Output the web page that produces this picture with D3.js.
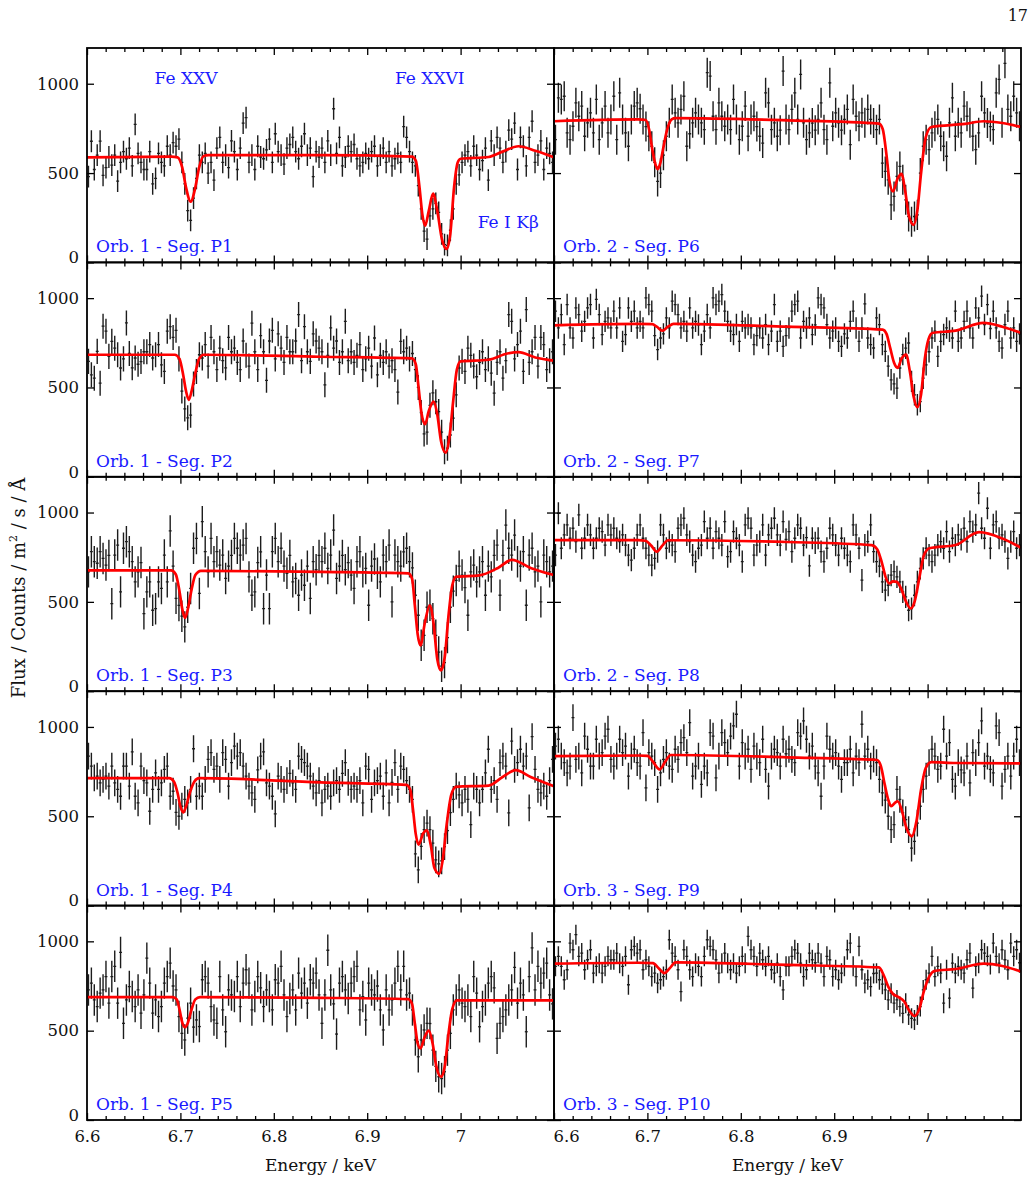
<!DOCTYPE html>
<html>
<head>
<meta charset="utf-8">
<script src="https://cdn.jsdelivr.net/npm/d3@7"></script>
<style>
  body { margin: 0; background: #fff; }
  text { font-family: "DejaVu Serif", serif; }
</style>
</head>
<body>
<svg id="chart"></svg>
<script>
// energy grid of the spectra (keV)
const binStart = 6.6;
const binWidth = 0.003125;

// flux per bin (16 rows of 10 bins)
const fluxP1 = [
  480,678,520,600,679,487,530,590,545,600,
  455,560,620,580,640,540,772,610,560,520,
  520,620,440,470,610,560,540,650,600,670,
  650,690,560,440,290,235,360,470,600,560,
  610,500,560,460,640,700,560,600,530,680,
  620,520,640,780,810,560,600,520,650,590,
  580,630,690,560,720,620,600,550,640,660,
  700,620,580,650,720,600,640,480,620,590,
  640,560,680,600,860,610,700,540,590,650,
  620,660,580,540,560,610,580,620,650,540,
  600,640,560,620,540,580,610,560,760,700,
  620,560,540,430,300,175,130,260,300,330,
  280,160,100,95,180,300,440,490,560,600,
  620,540,650,600,520,570,640,460,680,600,
  700,640,560,620,740,690,780,520,700,650,
  540,700,790,560,600,680,520,640,610,560
];
const fluxP2 = [
  646,571,552,702,524,843,815,674,758,720,
  683,609,660,861,690,610,665,630,645,700,
  700,740,665,683,740,627,590,815,840,780,
  820,660,480,380,330,345,520,590,683,665,
  740,620,780,700,600,720,650,610,780,700,
  720,640,600,760,680,620,860,700,600,790,
  700,540,760,820,660,800,720,640,780,700,
  700,760,908,650,840,700,646,800,760,720,
  700,515,680,833,720,760,640,700,870,650,
  700,640,680,740,600,660,720,620,777,571,
  680,640,700,620,650,600,474,758,700,720,
  660,690,600,500,360,240,250,400,470,420,
  365,250,140,160,234,328,459,609,646,590,
  720,680,620,560,640,700,600,660,580,468,
  640,700,552,650,908,870,660,740,815,590,
  936,640,700,780,620,780,740,600,650,700
];
const fluxP3 = [
  668,781,725,716,781,743,706,760,490,762,
  818,556,800,837,781,725,612,668,720,434,
  556,612,453,462,612,575,762,612,897,700,
  520,480,420,360,470,575,800,855,547,949,
  781,668,855,725,781,706,762,631,700,760,
  855,800,762,818,855,640,537,556,720,780,
  462,650,462,781,855,725,800,700,660,760,
  612,631,537,650,593,700,519,725,680,760,
  725,800,687,762,902,631,700,760,680,720,
  650,575,725,781,668,687,481,700,740,660,
  612,762,725,818,500,762,725,700,780,800,
  725,690,537,425,257,313,470,481,406,313,
  219,140,160,300,470,560,620,700,650,580,
  425,668,706,612,668,725,537,700,640,760,
  818,537,760,930,800,762,874,725,700,781,
  481,762,800,668,700,500,762,725,668,700
];
const fluxP4 = [
  837,781,715,725,687,706,725,669,781,687,
  650,612,781,781,669,860,612,575,781,700,
  687,528,650,743,650,687,762,781,612,640,
  522,500,556,594,575,650,878,612,669,612,
  706,818,856,762,781,706,856,818,669,800,
  893,837,856,781,725,669,631,594,760,837,
  860,687,669,612,513,725,706,650,700,740,
  687,650,837,818,800,781,725,669,631,700,
  575,650,669,612,687,700,650,740,800,690,
  650,669,650,700,575,781,762,594,687,700,
  725,612,743,575,690,800,650,781,762,700,
  650,594,290,200,331,425,462,425,350,256,
  234,250,330,420,520,594,669,620,575,650,
  594,453,669,650,575,650,743,875,650,700,
  594,800,837,781,519,921,762,800,875,781,
  837,547,946,762,650,631,669,612,700,818
];
const fluxP5 = [
  728,766,672,635,710,728,803,654,803,860,
  654,938,541,672,747,691,635,728,598,700,
  906,766,598,672,579,635,766,803,878,750,
  728,579,485,448,570,654,520,560,523,785,
  803,766,635,560,541,803,616,494,728,700,
  691,803,635,766,841,766,616,691,803,740,
  635,728,691,616,785,766,860,700,579,680,
  728,616,822,710,766,654,785,766,822,700,
  541,700,950,728,650,481,766,803,728,680,
  766,803,860,616,691,560,766,728,700,750,
  616,504,728,616,672,766,860,728,860,700,
  710,616,448,354,448,504,541,540,391,300,
  242,232,270,391,485,616,672,728,654,635,
  672,579,803,710,522,635,672,766,803,740,
  457,541,579,616,672,728,854,654,766,700,
  494,803,963,728,860,766,822,878,700,650
];
const fluxP6 = [
  687,921,912,930,725,687,762,893,818,875,
  706,781,837,725,912,687,781,875,725,800,
  930,687,949,800,725,650,800,875,893,860,
  800,760,706,650,560,453,500,600,706,781,
  912,837,781,856,930,650,720,781,837,800,
  781,743,1062,1043,818,743,893,818,762,800,
  743,912,800,687,762,875,706,800,818,760,
  706,668,949,893,743,781,706,740,1071,800,
  743,856,949,800,1052,781,687,725,780,740,
  800,893,743,687,1005,762,837,781,740,800,
  856,659,912,818,762,837,781,856,800,780,
  743,800,556,509,462,322,369,481,537,462,
  350,257,228,257,266,500,650,687,631,725,
  762,800,706,650,594,781,921,706,781,725,
  875,818,781,706,631,725,930,837,780,760,
  743,949,1024,781,1114,856,818,930,837,762
];
const fluxP7 = [
  927,833,908,740,964,833,777,945,908,815,
  870,945,964,777,993,908,796,870,889,833,
  927,833,945,758,796,945,870,927,833,870,
  833,1002,964,927,790,712,777,800,889,833,
  983,964,908,833,870,815,945,833,870,850,
  740,815,908,833,1002,964,983,1020,927,870,
  815,796,852,758,870,833,852,833,740,790,
  833,777,852,740,815,964,758,815,730,790,
  833,927,964,983,777,870,833,889,796,850,
  1002,964,945,852,777,815,833,758,730,800,
  777,870,927,833,758,833,968,777,740,721,
  889,852,740,702,620,543,520,496,609,684,
  720,749,534,459,403,421,552,627,700,777,
  815,674,758,796,833,815,777,927,758,777,
  870,927,833,777,945,889,1011,852,964,830,
  927,833,758,721,852,927,777,833,758,800
];
const fluxP8 = [
  762,996,800,875,931,856,912,837,987,800,
  856,931,875,800,856,912,893,818,931,875,
  912,856,837,875,818,762,734,800,875,931,
  856,800,762,706,743,781,931,875,800,837,
  818,781,912,931,968,875,837,762,725,800,
  818,949,856,912,800,893,856,818,949,753,
  781,893,856,818,725,931,968,912,762,818,
  837,931,762,875,912,968,875,818,949,850,
  893,781,856,931,912,818,860,702,856,830,
  856,781,725,800,912,875,818,762,856,800,
  762,725,931,875,800,622,818,837,931,781,
  725,700,612,566,593,650,669,640,612,556,
  528,453,462,537,612,687,743,800,762,725,
  762,818,837,800,893,781,856,818,875,850,
  912,837,949,893,931,1109,912,856,1024,800,
  931,949,856,875,837,743,837,893,800,818
];
const fluxP9 = [
  893,931,837,800,743,781,1052,818,837,743,
  949,875,781,781,931,837,856,949,987,818,
  781,837,931,856,893,725,837,875,800,781,
  968,659,856,837,800,650,743,818,856,781,
  762,875,818,912,940,856,1024,725,781,837,
  678,781,743,968,949,715,837,968,912,856,
  949,1006,1071,781,912,837,875,762,893,837,
  800,931,762,669,837,875,856,781,931,850,
  875,818,800,968,949,1034,931,837,893,781,
  743,612,781,949,875,837,856,781,706,800,
  800,875,743,837,800,1015,837,875,781,820,
  800,706,631,590,500,425,453,650,594,519,
  481,425,322,360,462,556,650,725,800,875,
  837,762,781,987,837,912,706,669,800,760,
  743,837,687,856,800,912,1034,781,837,762,
  743,1006,968,669,762,837,725,837,931,800
];
const fluxP10 = [
  860,916,860,785,841,990,953,1037,916,934,
  841,897,953,822,860,878,822,860,916,897,
  897,934,878,860,916,757,953,972,934,953,
  841,897,860,803,822,766,785,803,841,1009,
  934,916,841,719,953,916,841,803,878,860,
  803,916,1009,972,953,897,822,878,934,878,
  841,878,822,860,916,878,1028,953,916,860,
  934,897,860,916,841,822,878,803,728,860,
  860,916,953,934,878,803,841,934,897,880,
  934,878,803,916,897,803,841,785,822,860,
  953,990,860,803,972,841,766,785,747,820,
  822,785,760,728,672,710,654,672,635,597,
  654,588,569,560,588,635,728,785,822,916,
  803,860,822,654,841,682,878,822,860,841,
  822,897,934,738,860,878,953,934,916,870,
  990,916,878,953,897,841,990,916,953,880
];

// half length of the error bars, one value per panel
const errHalf = [61, 70, 88, 75, 88, 84, 60, 62, 75, 56];

// fitted model, [keV, flux] knots
const modelP1 = [[6.6,588],[6.69,592],[6.697,588],[6.702,530],[6.706,420],[6.711,340],[6.716,420],[6.72,530],[6.725,595],[6.73,600],[6.85,600],[6.948,592],[6.952,570],[6.956,420],[6.959,270],[6.962,205],[6.966,290],[6.9705,385],[6.975,290],[6.98,130],[6.985,75],[6.989,160],[6.993,420],[6.997,560],[7.0,580],[7.03,590],[7.045,620],[7.062,650],[7.08,625],[7.1,588]];
const modelP2 = [[6.6,683],[6.694,683],[6.699,660],[6.703,570],[6.706,480],[6.709,431],[6.712,480],[6.716,580],[6.72,660],[6.725,683],[6.85,672],[6.948,663],[6.952,630],[6.955,500],[6.958,360],[6.962,294],[6.966,370],[6.971,421],[6.975,350],[6.979,200],[6.984,135],[6.988,220],[6.992,420],[6.996,600],[7.0,646],[7.03,655],[7.05,690],[7.062,698],[7.08,668],[7.1,650]];
const modelP3 = [[6.6,676],[6.69,676],[6.695,655],[6.699,560],[6.702,460],[6.705,410],[6.708,460],[6.712,570],[6.716,650],[6.722,674],[6.85,668],[6.944,660],[6.948,630],[6.951,480],[6.954,320],[6.957,257],[6.962,390],[6.967,481],[6.971,380],[6.975,180],[6.979,116],[6.983,190],[6.987,420],[6.991,590],[6.995,640],[7.02,648],[7.04,690],[7.055,735],[7.075,690],[7.1,650]];
const modelP4 = [[6.6,713],[6.688,713],[6.693,695],[6.697,630],[6.7,555],[6.703,522],[6.706,555],[6.71,630],[6.715,695],[6.72,713],[6.85,690],[6.942,676],[6.946,650],[6.949,540],[6.952,400],[6.955,341],[6.96,405],[6.964,421],[6.968,340],[6.972,210],[6.977,178],[6.981,260],[6.985,450],[6.99,620],[6.995,665],[7.03,672],[7.045,720],[7.059,758],[7.075,720],[7.1,668]];
const modelP5 = [[6.6,688],[6.692,688],[6.696,675],[6.699,620],[6.702,545],[6.705,519],[6.708,545],[6.712,620],[6.716,675],[6.721,688],[6.85,684],[6.944,677],[6.948,650],[6.951,540],[6.954,430],[6.957,401],[6.962,470],[6.966,500],[6.97,430],[6.974,300],[6.979,242],[6.983,300],[6.987,480],[6.991,620],[6.996,669],[7.1,670]];
const modelP6 = [[6.6,790],[6.69,800],[6.698,797],[6.702,740],[6.705,640],[6.708,560],[6.711,522],[6.714,560],[6.717,640],[6.721,740],[6.726,800],[6.73,807],[6.85,795],[6.948,777],[6.952,745],[6.956,600],[6.959,460],[6.963,397],[6.968,470],[6.972,496],[6.976,400],[6.98,260],[6.985,210],[6.989,290],[6.993,500],[6.998,700],[7.004,758],[7.04,775],[7.06,790],[7.08,780],[7.1,758]];
const modelP7 = [[6.6,848],[6.69,856],[6.705,854],[6.71,840],[6.716,818],[6.722,840],[6.728,856],[6.85,840],[6.952,824],[6.956,800],[6.96,720],[6.964,640],[6.968,610],[6.972,660],[6.977,684],[6.981,590],[6.985,450],[6.989,390],[6.993,460],[6.997,660],[7.001,770],[7.005,805],[7.03,818],[7.06,861],[7.08,840],[7.1,805]];
const modelP8 = [[6.6,846],[6.69,846],[6.698,842],[6.704,815],[6.71,781],[6.716,815],[6.722,845],[6.85,835],[6.94,818],[6.946,795],[6.951,720],[6.955,640],[6.959,603],[6.963,615],[6.967,612],[6.972,570],[6.977,500],[6.982,463],[6.986,500],[6.991,630],[6.996,760],[7.002,800],[7.03,818],[7.055,890],[7.08,855],[7.1,803]];
const modelP9 = [[6.6,837],[6.69,840],[6.7,838],[6.706,805],[6.713,762],[6.719,805],[6.725,843],[6.85,830],[6.946,815],[6.95,780],[6.954,680],[6.958,590],[6.961,556],[6.965,575],[6.968,584],[6.972,540],[6.977,440],[6.983,388],[6.988,470],[6.993,650],[6.998,770],[7.004,803],[7.03,798],[7.1,796]];
const modelP10 = [[6.6,875],[6.69,880],[6.706,878],[6.712,850],[6.718,822],[6.724,850],[6.73,882],[6.85,868],[6.948,854],[6.953,810],[6.958,745],[6.963,705],[6.968,690],[6.975,663],[6.98,615],[6.986,582],[6.991,620],[6.996,720],[7.002,805],[7.008,835],[7.03,845],[7.06,875],[7.08,862],[7.1,831]];

const panelLabels = [
  "Orb. 1 - Seg. P1", "Orb. 1 - Seg. P2", "Orb. 1 - Seg. P3", "Orb. 1 - Seg. P4", "Orb. 1 - Seg. P5",
  "Orb. 2 - Seg. P6", "Orb. 2 - Seg. P7", "Orb. 2 - Seg. P8", "Orb. 3 - Seg. P9", "Orb. 3 - Seg. P10"
];

// line identifications in the first panel: [text, keV, flux]
const lineNotes = [["Fe XXV", 6.706, 1000], ["Fe XXVI", 6.967, 1000], ["Fe I Kβ", 7.051, 190]];

const xTicks = [6.6, 6.7, 6.8, 6.9, 7];
const xMinorStep = 0.02;
const yTicks = [0, 500, 1000];

const fluxes = [fluxP1, fluxP2, fluxP3, fluxP4, fluxP5, fluxP6, fluxP7, fluxP8, fluxP9, fluxP10];
const models = [modelP1, modelP2, modelP3, modelP4, modelP5, modelP6, modelP7, modelP8, modelP9, modelP10];

const width = 1035, height = 1184;
const frame = { left: 87, top: 48, panelW: 467, panelH: 214.4 };

const svg = d3.select("#chart").attr("width", width).attr("height", height);

const x = d3.scaleLinear().domain([6.6, 7.1]).range([0, frame.panelW]);
const y = d3.scaleLinear().domain([0, 1200]).range([frame.panelH, 0]);

const minorTicks = d3.range(6.6, 7.1001, xMinorStep)
  .filter(v => Math.abs(Math.round(v * 10) / 10 - v) > 1e-6);

const line = d3.line()
  .x(d => x(d[0]))
  .y(d => y(d[1]))
  .curve(d3.curveMonotoneX);

fluxes.forEach((flux, k) => {
  const col = k < 5 ? 0 : 1;
  const row = k % 5;
  const g = svg.append("g")
    .attr("transform", `translate(${frame.left + col * frame.panelW},${frame.top + row * frame.panelH})`);

  svg.append("clipPath").attr("id", "clip" + k)
    .append("rect").attr("width", frame.panelW).attr("height", frame.panelH);

  const plot = g.append("g").attr("clip-path", `url(#clip${k})`);
  const pts = flux.map((f, i) => ({ e: binStart + (i + 0.5) * binWidth, f: f }));
  const err = errHalf[k];

  plot.selectAll(".ebar").data(pts).enter().append("line")
    .attr("class", "ebar")
    .attr("x1", d => x(d.e)).attr("x2", d => x(d.e))
    .attr("y1", d => y(d.f - err)).attr("y2", d => y(d.f + err))
    .attr("stroke", "#1c1c1c").attr("stroke-width", 1.4);

  plot.selectAll(".xbar").data(pts).enter().append("line")
    .attr("class", "xbar")
    .attr("x1", d => x(d.e - binWidth / 2)).attr("x2", d => x(d.e + binWidth / 2))
    .attr("y1", d => y(d.f)).attr("y2", d => y(d.f))
    .attr("stroke", "#1c1c1c").attr("stroke-width", 1.3);

  plot.append("path")
    .datum(models[k])
    .attr("fill", "none")
    .attr("stroke", "#ff0000")
    .attr("stroke-width", 2.7)
    .attr("d", line);

  // inward ticks on all four sides
  const bottom = g.append("g").attr("transform", `translate(0,${frame.panelH})`)
    .call(d3.axisBottom(x).tickValues(xTicks).tickSize(-7).tickSizeOuter(0).tickPadding(10)
      .tickFormat(row === 4 ? d3.format("") : ""));
  g.append("g").attr("transform", `translate(0,${frame.panelH})`)
    .call(d3.axisBottom(x).tickValues(minorTicks).tickSize(-4).tickSizeOuter(0).tickFormat(""));
  g.append("g")
    .call(d3.axisTop(x).tickValues(xTicks).tickSize(-7).tickSizeOuter(0).tickFormat(""));
  g.append("g")
    .call(d3.axisTop(x).tickValues(minorTicks).tickSize(-4).tickSizeOuter(0).tickFormat(""));
  const left = g.append("g")
    .call(d3.axisLeft(y).tickValues(yTicks).tickSize(-7).tickSizeOuter(0).tickPadding(8)
      .tickFormat(col === 0 ? d3.format("") : ""));
  g.append("g").attr("transform", `translate(${frame.panelW},0)`)
    .call(d3.axisRight(y).tickValues(yTicks).tickSize(-7).tickSizeOuter(0).tickFormat(""));

  g.selectAll(".domain").remove();
  g.selectAll(".tick line").attr("stroke", "#000").attr("stroke-width", 1.3);
  g.selectAll(".tick text").attr("font-family", "DejaVu Serif").attr("font-size", 16.5).attr("fill", "#111");

  left.selectAll(".tick").filter(d => d === 0).select("text").attr("y", -5);
  if (col === 1) {
    bottom.selectAll(".tick").filter(d => d === 6.6).select("text")
      .attr("text-anchor", "start").attr("x", -1);
  }

  g.append("rect")
    .attr("width", frame.panelW).attr("height", frame.panelH)
    .attr("fill", "none").attr("stroke", "#000").attr("stroke-width", 1.8);

  g.append("text")
    .attr("x", 9).attr("y", frame.panelH - 10)
    .attr("font-size", 17).attr("fill", "#1a1aff")
    .text(panelLabels[k]);

  if (k === 0) {
    g.selectAll(".note").data(lineNotes).enter().append("text")
      .attr("class", "note")
      .attr("x", d => x(d[1])).attr("y", d => y(d[2]))
      .attr("text-anchor", "middle")
      .attr("font-size", 17).attr("fill", "#1a1aff")
      .text(d => d[0]);
  }

  if (row === 4) {
    g.append("text")
      .attr("x", frame.panelW / 2).attr("y", frame.panelH + 51)
      .attr("text-anchor", "middle").attr("font-size", 17).attr("fill", "#111")
      .text("Energy / keV");
  }
});

const yTitle = svg.append("text")
  .attr("transform", `translate(25,${frame.top + frame.panelH * 2.5 + 4}) rotate(-90)`)
  .attr("text-anchor", "middle").attr("font-size", 18).attr("fill", "#111");
yTitle.append("tspan").text("Flux / Counts / m");
yTitle.append("tspan").attr("font-size", 11).attr("dy", -8).text("2");
yTitle.append("tspan").attr("dy", 8).text(" / s / Å");

svg.append("text")
  .attr("x", 1028).attr("y", 21)
  .attr("text-anchor", "end").attr("font-size", 16).attr("fill", "#111")
  .text("17");
</script>
</body>
</html>
